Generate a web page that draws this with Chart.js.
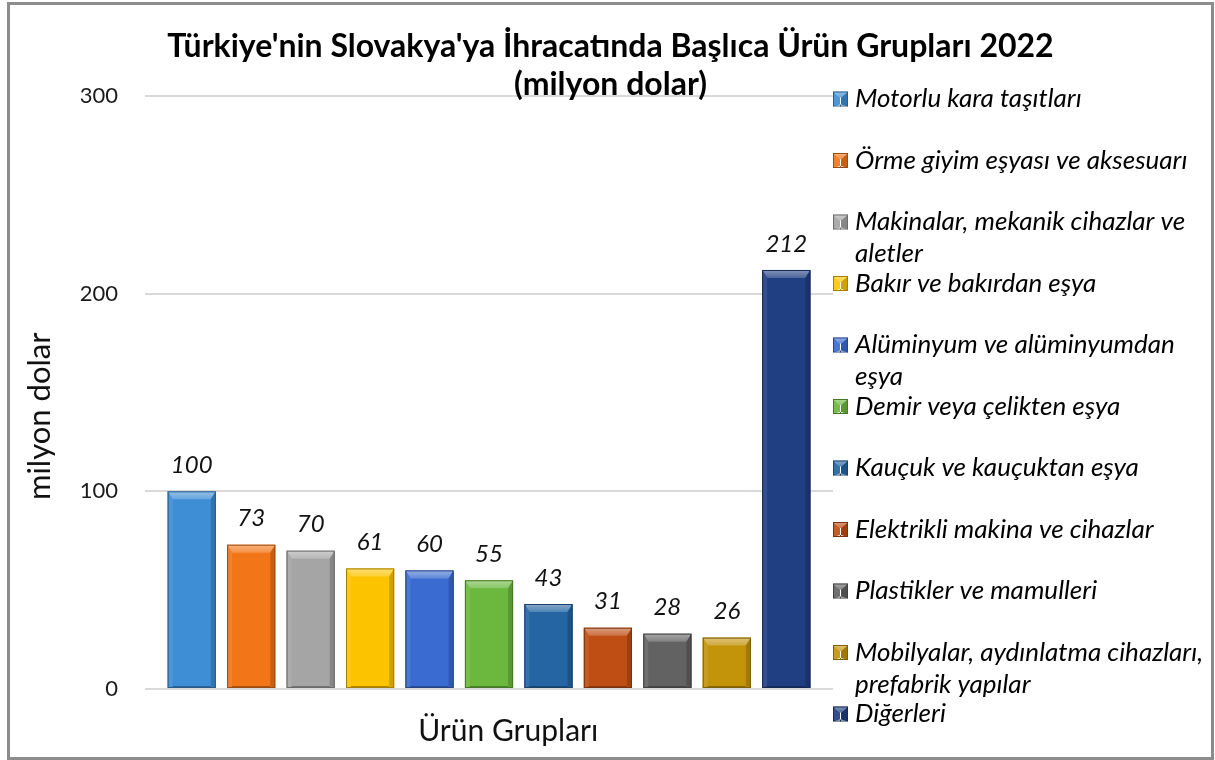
<!DOCTYPE html>
<html>
<head>
<meta charset="utf-8">
<script src="https://cdn.jsdelivr.net/npm/chart.js@4.4.1/dist/chart.umd.min.js"></script>
<style>
  html, body { margin: 0; padding: 0; background: #fff; }
  #frame { position: absolute; left: 7px; top: 2px; width: 1201px; height: 752px; border: 3px solid #8c8c8c; }
  canvas { display: block; }
</style>
</head>
<body>
<div id="frame"><canvas id="chart" width="1201" height="752"></canvas></div>
<script>
// Data
const categories = [
  'Motorlu kara taşıtları',
  'Örme giyim eşyası ve aksesuarı',
  ['Makinalar, mekanik cihazlar ve', 'aletler'],
  'Bakır ve bakırdan eşya',
  ['Alüminyum ve alüminyumdan', 'eşya'],
  'Demir veya çelikten eşya',
  'Kauçuk ve kauçuktan eşya',
  'Elektrikli makina ve cihazlar',
  'Plastikler ve mamulleri',
  ['Mobilyalar, aydınlatma cihazları,', 'prefabrik yapılar'],
  'Diğerleri'
];
const values = [100, 73, 70, 61, 60, 55, 43, 31, 28, 26, 212];
const barColors = ['#3e8ed6', '#f27518', '#a5a5a5', '#fcc400', '#3a6bd0', '#6cb83e',
  '#2565a3', '#bf4e14', '#626262', '#c3930a', '#203f82'];
const yMin = 0, yMax = 300, yStep = 100;

const titleLines = ["Türkiye'nin Slovakya'ya İhracatında Başlıca Ürün Grupları 2022", '(milyon dolar)'];
const gridColor = '#d9d9d9';

// mix a hex colour with white (amt > 0) or black (amt < 0)
function shade(hex, amt) {
  const n = parseInt(hex.slice(1), 16);
  let r = n >> 16, g = (n >> 8) & 255, b = n & 255;
  const t = amt > 0 ? 255 : 0, p = Math.abs(amt);
  r = Math.round(r + (t - r) * p);
  g = Math.round(g + (t - g) * p);
  b = Math.round(b + (t - b) * p);
  return `rgb(${r}, ${g}, ${b})`;
}

// bevelled block like the office charts
function bevel(ctx, l, t, r, b, color, bt, bs) {
  ctx.save();
  const top = ctx.createLinearGradient(0, t, 0, t + bt);
  top.addColorStop(0, shade(color, 0.45));
  top.addColorStop(1, shade(color, 0.2));
  ctx.fillStyle = top;
  ctx.beginPath();
  ctx.moveTo(l, t); ctx.lineTo(r, t); ctx.lineTo(r - bs, t + bt); ctx.lineTo(l + bs, t + bt);
  ctx.closePath(); ctx.fill();
  ctx.fillStyle = shade(color, 0.08);
  ctx.beginPath();
  ctx.moveTo(l, t); ctx.lineTo(l + bs, t + bt); ctx.lineTo(l + bs, b - 2); ctx.lineTo(l, b);
  ctx.closePath(); ctx.fill();
  ctx.fillStyle = shade(color, -0.18);
  ctx.beginPath();
  ctx.moveTo(r, t); ctx.lineTo(r - bs, t + bt); ctx.lineTo(r - bs, b - 2); ctx.lineTo(r, b);
  ctx.closePath(); ctx.fill();
  ctx.fillStyle = shade(color, -0.3);
  ctx.fillRect(l + bs, b - 2, r - l - 2 * bs, 2);
  ctx.strokeStyle = shade(color, -0.35);
  ctx.lineWidth = 1;
  ctx.strokeRect(l + 0.5, t + 0.5, r - l - 1, b - t - 1);
  ctx.restore();
}

// bevel + value labels on top of the bars
const barDecor = {
  id: 'barDecor',
  afterDatasetsDraw(chart) {
    const ctx = chart.ctx;
    const meta = chart.getDatasetMeta(0);
    meta.data.forEach((bar, i) => {
      const {x, y, base, width} = bar.getProps(['x', 'y', 'base', 'width'], true);
      bevel(ctx, x - width / 2, y, x + width / 2, base, barColors[i], 8, 5);
      ctx.save();
      ctx.font = 'italic 24px Lato';
      ctx.fillStyle = '#111';
      ctx.textAlign = 'center';
      ctx.textBaseline = 'middle';
      ctx.fillText(String(values[i]), x, y - 26);
      ctx.restore();
    });
  }
};

// legend at the right, one row per category
const sideLegend = {
  id: 'sideLegend',
  afterDraw(chart) {
    const ctx = chart.ctx;
    const left = chart.chartArea.right + 17;
    const rowStep = 61.5, lineStep = 32;
    ctx.save();
    ctx.font = 'italic 26px Lato';
    ctx.textBaseline = 'middle';
    chart.data.labels.forEach((label, i) => {
      const cy = 94 + i * rowStep;
      bevel(ctx, left, cy - 7.5, left + 15, cy + 7.5, barColors[i], 6, 7);
      const lines = Array.isArray(label) ? label : [label];
      ctx.fillStyle = '#000';
      lines.forEach((line, j) => ctx.fillText(line, left + 22, cy + j * lineStep));
    });
    ctx.restore();
  }
};

new Chart(document.getElementById('chart'), {
  type: 'bar',
  data: {
    labels: categories,
    datasets: [{
      data: values,
      backgroundColor: barColors,
      borderWidth: 0,
      barPercentage: 0.81,
      categoryPercentage: 1
    }]
  },
  options: {
    responsive: false,
    animation: false,
    layout: { padding: 0 },
    scales: {
      x: {
        grid: { display: false },
        border: { display: false },
        ticks: { display: false },
        title: {
          display: true,
          text: '     Ürün Grupları',
          font: { family: 'Lato', size: 30 },
          color: '#111',
          padding: { top: 0, bottom: 8 }
        },
        afterFit: scale => { scale.height = 68; }
      },
      y: {
        min: yMin,
        max: yMax,
        ticks: {
          stepSize: yStep,
          padding: 27,
          font: { family: 'Lato', size: 22 },
          color: '#1a1a1a'
        },
        grid: { color: gridColor, lineWidth: 2, tickLength: 17, drawTicks: true },
        border: { display: false },
        title: {
          display: true,
          text: 'milyon dolar      ',
          font: { family: 'Lato', size: 31 },
          color: '#111',
          padding: { top: 11, bottom: 0 }
        },
        afterFit: scale => { scale.width = 152; }
      },
      yRight: {
        position: 'right',
        min: yMin,
        max: yMax,
        ticks: { display: false, stepSize: yStep },
        grid: { color: gridColor, lineWidth: 2, tickLength: 17, drawOnChartArea: false },
        border: { display: false },
        afterFit: scale => { scale.width = 395; }
      }
    },
    plugins: {
      legend: { display: false },
      tooltip: { enabled: false },
      title: {
        display: true,
        text: titleLines,
        font: { family: 'Lato', size: 32, weight: 'bold', lineHeight: 38 / 32 },
        color: '#000',
        padding: { top: 23, bottom: -8 }
      }
    }
  },
  plugins: [barDecor, sideLegend]
});
</script>
</body>
</html>
